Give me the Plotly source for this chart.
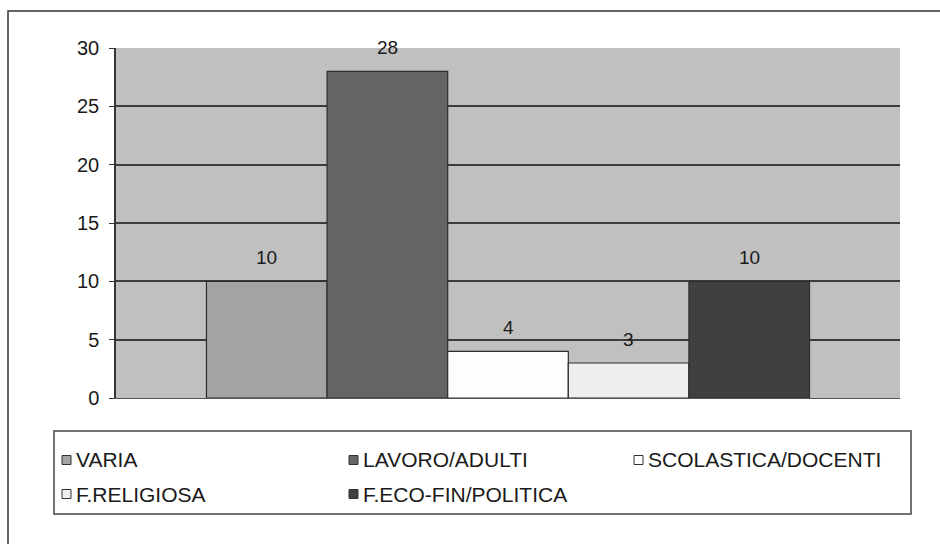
import plotly.graph_objects as go

# Series shown as adjacent bars of a single cluster
categories = ["VARIA", "LAVORO/ADULTI", "SCOLASTICA/DOCENTI", "F.RELIGIOSA", "F.ECO-FIN/POLITICA"]
values = [10, 28, 4, 3, 10]
colors = ["#a3a3a3", "#646464", "#fdfdfd", "#efefef", "#404040"]
y_ticks = [0, 5, 10, 15, 20, 25, 30]

W, H = 940, 544
ML, MR, MT, MB = 116, 40, 48, 146
PW, PH = W - ML - MR, H - MT - MB
FONT = "Liberation Sans, Arial, sans-serif"
INK = "#1a1a1a"


def px_x(p):
    return (p - ML) / PW


def px_y(p):
    return (H - MB - p) / PH


fig = go.Figure()
for i, (name, v, c) in enumerate(zip(categories, values, colors)):
    fig.add_trace(go.Bar(
        x=[i], y=[v], name=name, width=1,
        marker=dict(color=c, line=dict(color="#2e2e2e", width=1.2)),
        showlegend=False, hoverinfo="skip",
    ))
    fig.add_annotation(
        x=i, y=v, xref="x", yref="y", text=str(v), showarrow=False,
        yshift=24, yanchor="middle", font=dict(family=FONT, size=19, color=INK),
    )

shapes = [
    # outer chart frame (right and bottom edges fall outside the page)
    dict(type="rect", xref="paper", yref="paper",
         x0=px_x(8), x1=px_x(990), y0=px_y(600), y1=px_y(11),
         line=dict(color="#333333", width=1.5), layer="below"),
    # legend frame
    dict(type="rect", xref="paper", yref="paper",
         x0=px_x(54), x1=px_x(911), y0=px_y(514), y1=px_y(431),
         line=dict(color="#444444", width=1.5)),
]

# legend entries laid out in three columns, two rows
col_x = [62, 349, 634]
row_y = [460, 494]
sym = 9
for k, (name, c) in enumerate(zip(categories, colors)):
    cx = col_x[k % 3]
    cy = row_y[k // 3]
    shapes.append(dict(type="rect", xref="paper", yref="paper",
                       x0=px_x(cx), x1=px_x(cx + sym),
                       y0=px_y(cy + sym / 2), y1=px_y(cy - sym / 2),
                       fillcolor=c, line=dict(color="#333333", width=1)))
    fig.add_annotation(x=px_x(cx + sym + 3), y=px_y(cy), xref="paper", yref="paper",
                       text=name, showarrow=False, xanchor="left", yanchor="middle",
                       font=dict(family=FONT, size=21, color=INK))

fig.update_layout(
    width=W, height=H, autosize=False,
    margin=dict(l=ML, r=MR, t=MT, b=MB, pad=0),
    paper_bgcolor="white", plot_bgcolor="#c0c0c0",
    barmode="overlay", shapes=shapes,
    font=dict(family=FONT, size=19, color=INK),
)
fig.update_xaxes(range=[-1.25, 5.25], showticklabels=False, showgrid=False,
                 zeroline=False, showline=True, linecolor="#555555", linewidth=1,
                 ticks="", fixedrange=True)
fig.update_yaxes(range=[0, 30], tickvals=y_ticks, ticks="outside", ticklen=5,
                 tickcolor="#333333", tickwidth=1.2, showgrid=True,
                 gridcolor="#3c3c3c", gridwidth=1.5, zeroline=False,
                 showline=True, linecolor="#333333", linewidth=1.5,
                 ticklabelstandoff=6, tickfont=dict(family=FONT, size=20, color=INK),
                 fixedrange=True)

fig.write_html("out.html")
